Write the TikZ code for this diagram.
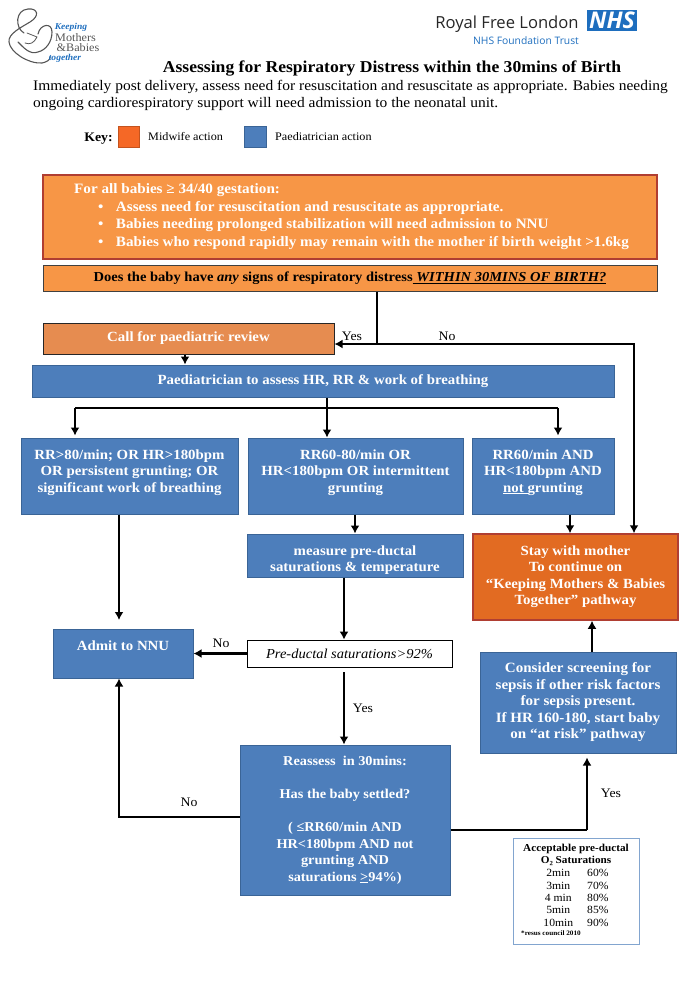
\documentclass[tikz,border=0pt]{standalone}
\usepackage{fontspec}
\setmainfont{Liberation Serif}[FakeStretch=1.06]
\newfontfamily\logofont{Open Sans}
\usetikzlibrary{arrows.meta,shadows,calc}
\definecolor{paedblue}{RGB}{77,126,187}
\definecolor{paededge}{RGB}{58,100,150}
\definecolor{midorange}{RGB}{247,150,70}
\definecolor{midedge}{RGB}{176,62,50}
\definecolor{callorange}{RGB}{230,140,80}
\definecolor{stayorange}{RGB}{226,107,34}
\definecolor{keyorange}{RGB}{245,104,38}
\definecolor{nhsblue}{RGB}{30,110,190}
\definecolor{logogrey}{RGB}{85,85,85}
\tikzset{
 paed/.style={draw=paededge,line width=1pt,fill=paedblue,text=white,align=center,font=\bfseries\fontsize{14}{16.5}\selectfont},
 mid/.style={draw=midedge,line width=1.5pt,fill=midorange,text=white,align=center,font=\bfseries\fontsize{14}{16.5}\selectfont},
 flow/.style={line width=2.8pt,-{Latex[length=8pt,width=9pt]}},
 flowline/.style={line width=2.8pt},
 lbl/.style={font=\fontsize{13}{15}\selectfont,inner sep=0pt}
}
\begin{document}
\begin{tikzpicture}[x=1pt,y=1pt]
 \useasboundingbox (0,0) rectangle (700,-990);
 % logos
 \begin{scope}[yscale=-1]
 \draw[logogrey,line width=1.1pt,line cap=round] (24,33)..controls (15,28) and (15,10) .. (28,9)..controls (38,8) and (40,16) .. (30,22)..controls (20,28) and (8,34) .. (9,42)..controls (10,52) and (28,64) .. (42,63)..controls (47,62) and (50,60) .. (50,57);
 \draw[logogrey,line width=1.1pt,line cap=round] (38,34)..controls (40,24) and (52,22) .. (52,32)..controls (52,42) and (46,50) .. (38,52)..controls (30,55) and (24,48) .. (18,42);
 \draw[logogrey,line width=0.8pt,line cap=round] (27,33)--(37,37)..controls (34,43) and (30,45) .. (25,43);
 \node[inner sep=0pt,text=nhsblue,font=\bfseries\itshape\fontsize{9}{9}\selectfont] (logokeep) at (71,27) {Keeping};
 \node[inner sep=0pt,text=logogrey,font=\fontsize{11.5}{11}\selectfont] (logomoth) at (75.5,38) {Mothers};
 \node[inner sep=0pt,text=logogrey,font=\fontsize{11.5}{11}\selectfont] (logobab) at (78,48) {\&Babies};
 \node[inner sep=0pt,text=nhsblue,font=\bfseries\itshape\fontsize{9}{9}\selectfont] (logotog) at (65,58) {together};
 \node[inner sep=0pt,font=\logofont\fontsize{16.6}{17}\selectfont,text=black!85] (royal) at (507,24) {Royal Free London};
 \node[fill=nhsblue,text=white,inner sep=0pt,minimum width=50pt,minimum height=21pt,font=\logofont\bfseries\itshape\fontsize{23}{23}\selectfont] (nhs) at (612,20.5) {NHS};
 \node[inner sep=0pt,font=\logofont\fontsize{10.3}{11}\selectfont,text=nhsblue] (trust) at (526,41) {NHS Foundation Trust};
 % heading
 \node[inner sep=0pt,font=\bfseries\fontsize{16.6}{18}\selectfont] (title) at (392,68) {Assessing for Respiratory Distress within the 30mins of Birth};
 \end{scope}
 \node[inner sep=0pt,anchor=west,align=left,font=\fontsize{14.6}{17}\selectfont] (intro) at (33,-95) {Immediately post delivery, assess need for resuscitation and resuscitate as appropriate. Babies needing\\ongoing cardiorespiratory support will need admission to the neonatal unit.};
 % key
 \node[inner sep=0pt,font=\bfseries\fontsize{13}{16}\selectfont] (key) at (98.5,-139) {Key:};
 \node[draw=keyorange!80!black,fill=keyorange,minimum width=21pt,minimum height=21pt,inner sep=0pt,drop shadow={shadow xshift=0.5pt,shadow yshift=-1pt,fill=black!40}] (keymid) at (128.5,-136.5) {};
 \node[inner sep=0pt,anchor=west,font=\fontsize{11.5}{13}\selectfont] (keymidtxt) at (148,-137) {Midwife action};
 \node[draw=paededge,line width=1pt,fill=paedblue,minimum width=22pt,minimum height=21pt,inner sep=0pt] (keypaed) at (255.5,-136.5) {};
 \node[inner sep=0pt,anchor=west,font=\fontsize{11.5}{13}\selectfont] (keypaedtxt) at (275,-137) {Paediatrician action};
 % flow boxes
 \node[mid,minimum width=614pt,minimum height=84pt,inner sep=0pt] (allbabies) at (350,-217) {};
 \node[inner sep=0pt,anchor=west,text=white,align=left,font=\bfseries\fontsize{14.3}{17.6}\selectfont] (allbabiestxt) at (74,-216.5) {For all babies ≥ 34/40 gestation:\\
  \hspace*{24pt}\textbullet\hspace{12.5pt}Assess need for resuscitation and resuscitate as appropriate.\\
  \hspace*{24pt}\textbullet\hspace{12.5pt}Babies needing prolonged stabilization will need admission to NNU\\
  \hspace*{24pt}\textbullet\hspace{12.5pt}Babies who respond rapidly may remain with the mother if birth weight >1.6kg};
 \node[draw=black!75,line width=1pt,fill=midorange,minimum width=614pt,minimum height=26pt,inner sep=0pt,font=\bfseries\fontsize{13.7}{16}\selectfont] (question) at (350,-278) {Does the baby have \textit{any} signs of respiratory distress\underline{\textit{ WITHIN 30MINS OF BIRTH?}}};
 \node[draw=black!85,line width=1pt,fill=callorange,text=white,minimum width=291pt,minimum height=31pt,inner sep=0pt,font=\bfseries\fontsize{14}{16}\selectfont] (call) at (188.5,-338.5) {Call for paediatric review};
 \node[paed,minimum width=582pt,minimum height=32pt,inner sep=0pt] (assess) at (323,-381) {Paediatrician to assess HR, RR \& work of breathing};
 \node[paed,minimum width=217pt,minimum height=76pt,inner sep=0pt] (severe) at (129.5,-476) {RR>80/min; OR HR>180bpm\\OR persistent grunting; OR\\significant work of breathing\\[-6pt]\mbox{}};
 \node[paed,minimum width=215pt,minimum height=76pt,inner sep=0pt] (moderate) at (355.5,-476) {RR60-80/min OR\\HR<180bpm OR intermittent\\grunting\\[-6pt]\mbox{}};
 \node[paed,minimum width=142pt,minimum height=76pt,inner sep=0pt] (mild) at (543,-476) {RR60/min AND\\HR<180bpm AND\\\underline{not }grunting\\[-6pt]\mbox{}};
 \node[paed,minimum width=216pt,minimum height=43pt,inner sep=0pt] (measure) at (355,-555.5) {\mbox{}\\[2pt]measure pre-ductal\\saturations \& temperature};
 \node[mid,draw=midedge,fill=stayorange,minimum width=205pt,minimum height=86pt,inner sep=0pt] (stay) at (575.5,-577) {Stay with mother\\To continue on\\``Keeping Mothers \& Babies\\Together'' pathway\\[-12.5pt]\mbox{}};
 \node[paed,minimum width=140pt,minimum height=49pt,inner sep=0pt] (admit) at (123,-653.5) {Admit to NNU\\\mbox{}};
 \node[draw=black,line width=0.8pt,fill=white,minimum width=205pt,minimum height=27pt,inner sep=0pt,font=\itshape\fontsize{13.7}{15}\selectfont] (predutal) at (349.5,-653.5) {Pre-ductal saturations>92\%};
 \node[paed,font=\bfseries\fontsize{14.2}{16.5}\selectfont,minimum width=196pt,minimum height=101pt,inner sep=0pt] (screen) at (578,-702.5) {Consider screening for\\sepsis if other risk factors\\for sepsis present.\\If HR 160-180, start baby\\on ``at risk'' pathway};
 \node[paed,font=\bfseries\fontsize{13.5}{16.5}\selectfont,minimum width=210pt,minimum height=150pt,inner sep=0pt] (reassess) at (345,-820) {Reassess\ \ in 30mins:\\[16.5pt]Has the baby settled?\\[16.5pt]( ≤RR60/min AND\\HR<180bpm AND not\\grunting AND\\saturations \underline{>}94\%)};
 \node[draw=paedblue!70,line width=1pt,fill=white,minimum width=126pt,minimum height=106pt,inner sep=0pt] (satbox) at (576,-891) {};
 \node[inner sep=0pt,align=center,font=\bfseries\fontsize{10.6}{12.4}\selectfont] (sathead) at (576,-855) {Acceptable pre-ductal\\O₂ Saturations};
 \node[inner sep=0pt,font=\fontsize{11}{12.4}\selectfont] (sattable) at (576,-899) {\begin{tabular}{@{}c@{\hspace{14pt}}c@{}}2min&60\%\\3min&70\%\\4 min&80\%\\5min&85\%\\10min&90\%\end{tabular}};
 \node[inner sep=0pt,anchor=west,font=\bfseries\fontsize{6.8}{8}\selectfont] (satnote) at (521,-933.5) {*resus council 2010};
 % helper points for the lines
 \coordinate (yesno) at (377,-344);
 \coordinate (norun) at (634,-344);
 \coordinate (split) at (327,-408);
 \coordinate (splitl) at (75,-408);
 \coordinate (splitr) at (558,-408);
 \coordinate (nnudrop) at (119,-620);
 \coordinate (settleno) at (119,-817);
 \coordinate (settleyes) at (587,-830);
 % connectors
 \draw[flow] (question.south -| yesno) -- (yesno) -- (yesno -| call.east);
 \draw[flow] (yesno) -- (norun) -- (norun |- stay.north);
 \draw[flow] (call.south -| 185,0) -- (assess.north -| 185,0);
 \draw[flow] (assess.south -| split) -- (split |- moderate.north);
 \draw[flowline] (splitl) -- (splitr);
 \draw[flow] (splitl) -- ($(splitl |- severe.north)+(0,2)$);
 \draw[flow] (splitr) -- ($(splitr |- mild.north)+(0,2)$);
 \draw[flow] (severe.south -| nnudrop) -- (nnudrop);
 \draw[flow] (moderate.south -| 355,0) -- (measure.north -| 355,0);
 \draw[flow] (mild.south -| 570,0) -- (stay.north -| 570,0);
 \draw[flow] (measure.south -| 344,0) -- (predutal.north -| 344,0);
 \draw[flow] (predutal.west) -- (admit.east |- predutal.west);
 \draw[flow] (344,-672) -- (reassess.north -| 344,0);
 \draw[flow] (reassess.west |- settleno) -- (settleno) -- (settleno |- admit.south);
 \draw[flowline] (reassess.east |- settleyes) -- (settleyes);
 \draw[flow] (settleyes) -- ($(settleyes |- screen.south)+(0,-4)$);
 \draw[flow] (screen.north -| 592,0) -- (stay.south -| 592,0);
 % line labels
 \node[lbl] (yes1) at (352,-336) {Yes};
 \node[lbl] (no1) at (447,-336) {No};
 \node[lbl] (no2) at (221,-643) {No};
 \node[lbl] (yes2) at (363,-708) {Yes};
 \node[lbl] (no3) at (189,-802) {No};
 \node[lbl] (yes3) at (611,-793) {Yes};
\end{tikzpicture}
\end{document}
